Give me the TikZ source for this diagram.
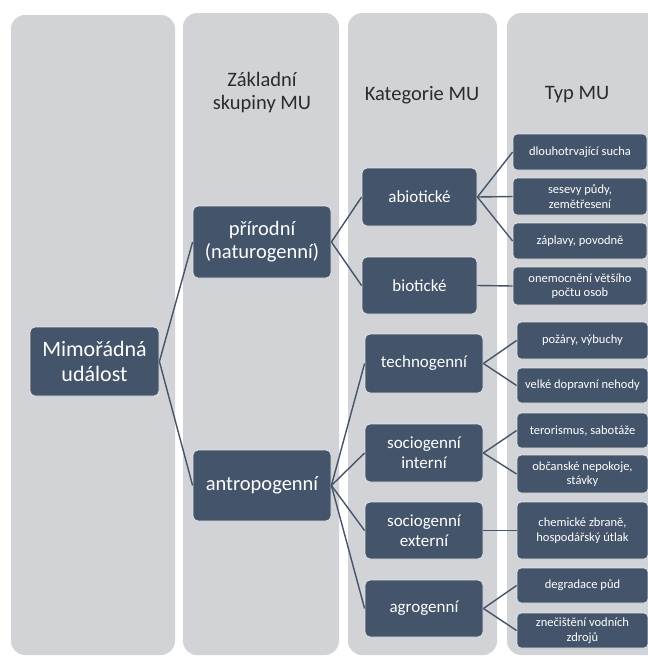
\documentclass[tikz,border=0pt]{standalone}
\usepackage{fontspec}
\setmainfont{Carlito}
\definecolor{colbg}{HTML}{D1D3D7}
\definecolor{boxbg}{HTML}{44546A}
\definecolor{hdr}{HTML}{2B2B2B}
\definecolor{lnk}{HTML}{44546A}
\tikzset{
  column/.style={fill=colbg, draw=none, rounded corners=14pt},
  box/.style={fill=boxbg, draw=white!85!boxbg, line width=0.8pt, rounded corners=5pt, text=white, align=center, inner sep=2pt, anchor=center},
  lvlA/.style={box, font=\fontsize{22}{25}\selectfont},
  lvlB/.style={box, font=\fontsize{20.5}{23}\selectfont},
  lvlC/.style={box, font=\fontsize{17}{20}\selectfont},
  lvlD/.style={box, font=\fontsize{12.5}{14.5}\selectfont, rounded corners=4pt},
  header/.style={text=hdr, align=center, font=\fontsize{20.5}{23}\selectfont},
  link/.style={draw=lnk, line width=1.4pt}
}
\begin{document}
\begin{tikzpicture}[x=1pt,y=-1pt]
\useasboundingbox (0,0) rectangle (648,657);
\fill[white] (0,0) rectangle (648,657);
% columns
\begin{scope}
\clip (0,0) rectangle (648,657);
\fill[column] (11,15) rectangle (175,655);
\fill[column] (183,13) rectangle (339,655);
\fill[column] (348,13) rectangle (497,655);
\fill[column] (507,13) rectangle (672,655);
\end{scope}
% headers
\node[header] (h2) at (262,93) {Základní\\skupiny MU};
\node[header] (h3) at (422,95) {Kategorie MU};
\node[header] (h4) at (577,95) {Typ MU};
% level A
\node[lvlA, minimum width=129pt, minimum height=69pt] (mu) at (94.5,361.5) {Mimořádná\\událost};
% level B
\node[lvlB, minimum width=138pt, minimum height=72pt] (prir) at (262,242) {přírodní\\(naturogenní)};
\node[lvlB, minimum width=138pt, minimum height=71pt] (antr) at (262,485.5) {antropogenní};
% level C
\node[lvlC, minimum width=115pt, minimum height=58pt] (abio) at (419.5,197) {abiotické};
\node[lvlC, minimum width=115pt, minimum height=57pt] (bio) at (419.5,285.5) {biotické};
\node[lvlC, minimum width=118pt, minimum height=59pt] (tech) at (424,363.5) {technogenní};
\node[lvlC, minimum width=118pt, minimum height=58pt] (sint) at (424,453) {sociogenní\\interní};
\node[lvlC, minimum width=118pt, minimum height=57pt] (sext) at (424,530.5) {sociogenní\\externí};
\node[lvlC, minimum width=118pt, minimum height=57pt] (agro) at (424,608.5) {agrogenní};
% level D
\node[lvlD, minimum width=134pt, minimum height=36pt] (t1) at (580,152) {dlouhotrvající sucha};
\node[lvlD, minimum width=134pt, minimum height=37pt] (t2) at (580,196.5) {sesevy půdy,\\zemětřesení};
\node[lvlD, minimum width=134pt, minimum height=36pt] (t3) at (580,241) {záplavy, povodně};
\node[lvlD, minimum width=134pt, minimum height=38pt] (t4) at (580,286) {onemocnění většího\\počtu osob};
\node[lvlD, minimum width=131pt, minimum height=37pt] (t5) at (582.5,340.5) {požáry, výbuchy};
\node[lvlD, minimum width=131pt, minimum height=35pt] (t6) at (582.5,385.5) {velké dopravní nehody};
\node[lvlD, minimum width=131pt, minimum height=35pt] (t7) at (582.5,430.5) {terorismus, sabotáže};
\node[lvlD, minimum width=131pt, minimum height=38pt] (t8) at (582.5,474) {občanské nepokoje,\\stávky};
\node[lvlD, minimum width=131pt, minimum height=57pt] (t9) at (582.5,530.5) {chemické zbraně,\\hospodářský útlak};
\node[lvlD, minimum width=131pt, minimum height=35pt] (t10) at (582.5,585.5) {degradace půd};
\node[lvlD, minimum width=131pt, minimum height=35pt] (t11) at (582.5,630.5) {znečištění vodních\\zdrojů};
% connectors
\draw[link] (mu.east) -- (prir.west);
\draw[link] (mu.east) -- (antr.west);
\draw[link] (prir.east) -- (abio.west);
\draw[link] (prir.east) -- (bio.west);
\draw[link] (antr.east) -- (tech.west);
\draw[link] (antr.east) -- (sint.west);
\draw[link] (antr.east) -- (sext.west);
\draw[link] (antr.east) -- (agro.west);
\draw[link] (abio.east) -- (t1.west);
\draw[link] (abio.east) -- (t2.west);
\draw[link] (abio.east) -- (t3.west);
\draw[link] (bio.east) -- (t4.west);
\draw[link] (tech.east) -- (t5.west);
\draw[link] (tech.east) -- (t6.west);
\draw[link] (sint.east) -- (t7.west);
\draw[link] (sint.east) -- (t8.west);
\draw[link] (sext.east) -- (t9.west);
\draw[link] (agro.east) -- (t10.west);
\draw[link] (agro.east) -- (t11.west);
\end{tikzpicture}
\end{document}
